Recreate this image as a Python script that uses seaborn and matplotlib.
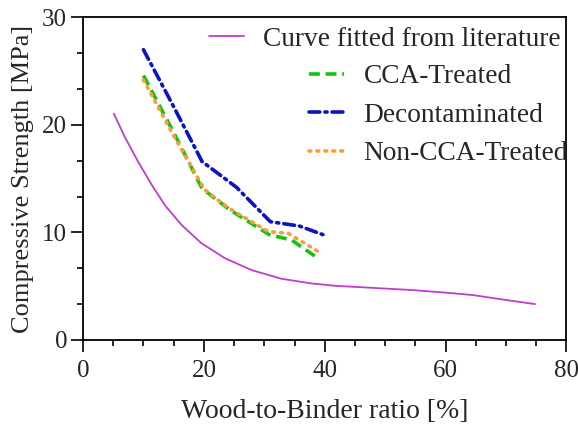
import numpy as np
import pandas as pd
import seaborn as sns
import matplotlib
matplotlib.use("Agg")
import matplotlib.pyplot as plt
from matplotlib.ticker import MultipleLocator
from matplotlib.lines import Line2D

# Data
fit_x = [5.1, 6.9, 9.1, 11.4, 13.6, 16.3, 19.6, 23.5, 27.9, 32.8, 37.8, 41.7, 46.3, 54.6, 60.1, 64.5, 70.0, 74.8]
fit_y = [21.05, 18.9, 16.6, 14.4, 12.5, 10.7, 9.0, 7.6, 6.5, 5.7, 5.26, 5.04, 4.9, 4.64, 4.4, 4.18, 3.72, 3.34]

cca_x = [10, 15, 19.7, 24.3, 30.8, 34.5, 38.9]
cca_y = [24.6, 19.3, 14.1, 12.1, 9.8, 9.3, 7.6]
decon_x = [10, 15, 19.7, 25.4, 31.0, 35.8, 39.7]
decon_y = [27.0, 21.7, 16.6, 14.2, 11.0, 10.6, 9.8]
noncca_x = [10, 15, 20.1, 24.0, 30.6, 34.0, 39.3]
noncca_y = [24.2, 19.0, 14.0, 12.3, 10.1, 9.9, 8.1]

labels = ["Curve fitted from literature", "CCA-Treated", "Decontaminated", "Non-CCA-Treated"]

sns.set_theme(style="white")
plt.rcParams['font.family'] = ['Liberation Serif', 'DejaVu Serif']

FS = 19.7
fig = plt.figure(figsize=(5.78, 4.25), dpi=100)
ax = fig.add_axes([0.1436, 0.2, 0.8365, 0.759])

sns.lineplot(x=fit_x, y=fit_y, ax=ax, color="#c03cd0", lw=1.3, label=labels[0])
sns.lineplot(x=cca_x, y=cca_y, ax=ax, color="#11c411", lw=2.6, label=labels[1])
sns.lineplot(x=decon_x, y=decon_y, ax=ax, color="#0a14c0", lw=2.6, label=labels[2])
sns.lineplot(x=noncca_x, y=noncca_y, ax=ax, color="#ff9a3a", lw=2.6, label=labels[3])

lines = ax.get_lines()
lines[1].set_linestyle((0, (3.0, 1.6)))
lines[2].set_linestyle((0, (3.0, 1.4, 0.6, 1.4)))
lines[3].set_linestyle((0, (0.5, 1.7)))
lines[3].set_dash_capstyle('round')
lines[2].set_dash_capstyle('round')
ax.get_legend().remove()

ax.set_xlim(0, 80)
ax.set_ylim(0, 30)
ax.xaxis.set_major_locator(MultipleLocator(20))
ax.xaxis.set_minor_locator(MultipleLocator(5))
ax.yaxis.set_major_locator(MultipleLocator(10))
ax.yaxis.set_minor_locator(MultipleLocator(10 / 3))
ax.tick_params(which='major', direction='out', length=8.5, width=1.2, color='black',
               labelsize=18, bottom=True, left=True, pad=3)
ax.tick_params(axis='x', which='major', pad=6)
ax.tick_params(which='minor', direction='out', length=4.3, width=1.2, color='black',
               bottom=True, left=True)
for s in ax.spines.values():
    s.set_color('black')
    s.set_linewidth(1.3)

ax.set_xlabel("Wood-to-Binder ratio [%]", fontsize=20, labelpad=12)
ax.set_ylabel("Compressive Strength [MPa]", fontsize=19, labelpad=6)

h1 = [Line2D([], [], color="#c03cd0", lw=1.3)]
leg1 = ax.legend(h1, [labels[0]], loc='upper right', frameon=False, fontsize=FS,
                 handlelength=1.26, handletextpad=0.72, borderaxespad=0.0,
                 bbox_to_anchor=(1.0, 0.988), borderpad=0.2)
ax.add_artist(leg1)
leg2 = ax.legend(lines[1:4], labels[1:4], loc='upper left', frameon=False, fontsize=FS,
                 handlelength=1.26, handletextpad=0.72, borderaxespad=0.0,
                 bbox_to_anchor=(0.468, 0.855), labelspacing=0.49, borderpad=0.0)

fig.savefig("out.png", dpi=100)
